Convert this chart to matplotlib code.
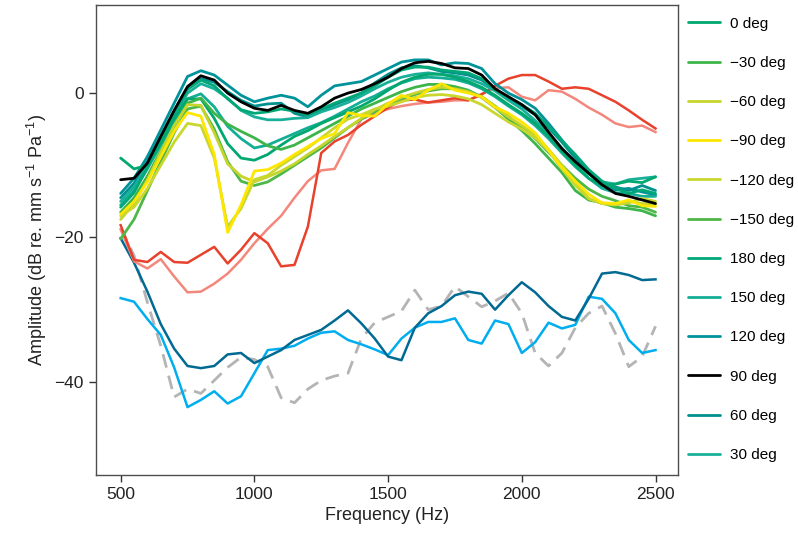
import matplotlib
matplotlib.use("Agg")
import matplotlib.pyplot as plt
import numpy as np

plt.rcParams['font.family'] = ['Liberation Sans', 'DejaVu Sans']
plt.rcParams['mathtext.fontset'] = 'custom'
plt.rcParams['mathtext.rm'] = 'Liberation Sans'
plt.rcParams['mathtext.it'] = 'Liberation Sans:italic'

# frequency grid (Hz)
freq = list(range(500, 2501, 50))

# angle responses (dB)
deg_0 = [-9.0, -10.5, -10.0, -7.0, -3.5, -0.8, -0.8, -3.5, -7.0, -9.0, -9.3, -8.5, -7.2, -6.0, -5.2, -4.2, -3.4,
         -2.6, -1.8, -0.8, 0.4, 1.5, 2.2, 2.6, 2.6, 2.2, 1.6, 0.8, -0.3, -1.6, -2.8, -4.2, -6.0, -8.0, -10.0,
         -11.8, -12.8, -12.6, -12.2, -12.4, -11.6]
deg_m30 = [-16.5, -14.5, -11.5, -8.0, -4.6, -1.4, -0.7, -2.8, -4.3, -5.3, -6.2, -7.3, -7.8, -7.2, -6.2, -5.2, -4.2,
           -3.2, -2.2, -1.4, -0.6, 0.2, 0.8, 1.2, 1.2, 0.9, 0.4, -0.6, -2.0, -3.6, -5.2, -7.0, -9.0, -11.0, -13.5,
           -14.8, -15.2, -15.8, -16.0, -16.3, -17.0]
deg_m60 = [-17.5, -15.3, -12.0, -8.2, -4.5, -1.6, -1.7, -5.5, -9.8, -11.5, -12.3, -11.6, -10.8, -9.8, -8.5, -7.3,
           -6.0, -4.8, -3.5, -2.3, -1.4, -0.6, 0.0, 0.5, 0.8, 0.6, 0.2, -0.6, -2.0, -3.3, -4.5, -5.8, -7.8, -10.0,
           -12.2, -14.6, -15.3, -15.4, -15.0, -15.3, -15.4]
deg_m90 = [-16.8, -15.0, -12.3, -8.8, -5.3, -2.7, -3.2, -8.5, -19.3, -15.5, -10.8, -10.6, -9.7, -8.5, -7.4, -6.3,
           -5.6, -2.7, -3.1, -3.2, -1.5, -0.3, -0.9, 0.4, 1.3, 0.4, 0.0, -0.5, -1.9, -2.8, -4.0, -5.5, -7.9, -10.3,
           -12.2, -14.0, -15.2, -15.3, -14.8, -15.6, -15.7]
deg_m120 = [-17.0, -15.8, -13.2, -10.0, -6.8, -4.2, -4.5, -9.0, -18.5, -16.0, -12.0, -11.4, -10.0, -8.8, -7.6,
            -6.2, -4.8, -3.6, -3.0, -2.2, -1.8, -1.2, -0.6, -0.3, -0.2, -0.4, -0.8, -1.6, -2.8, -4.0, -5.0, -6.2,
            -8.0, -10.5, -12.8, -14.6, -15.3, -15.5, -15.2, -14.6, -15.0]
deg_m150 = [-20.2, -17.5, -13.5, -9.5, -5.5, -2.2, -1.8, -5.0, -9.5, -12.2, -12.8, -12.3, -11.2, -10.0, -8.8,
            -7.6, -6.2, -4.8, -3.6, -2.6, -1.6, -0.8, -0.2, 0.3, 0.6, 0.6, 0.3, -0.5, -1.8, -3.2, -4.8, -6.3, -8.2,
            -10.0, -11.8, -13.3, -14.3, -14.9, -15.6, -15.8, -16.5]
deg_180 = [-15.8, -13.8, -10.3, -6.5, -2.8, 0.5, 1.8, 1.0, -0.8, -2.3, -2.8, -2.6, -2.2, -2.5, -3.0, -2.2, -1.4,
           -0.7, 0.0, 1.0, 2.2, 3.2, 3.6, 3.6, 3.2, 3.0, 2.8, 2.0, 0.5, -0.6, -1.6, -2.8, -4.6, -6.6, -8.5, -10.6,
           -12.2, -13.2, -13.9, -13.4, -13.9]
deg_150 = [-15.5, -13.5, -10.5, -7.2, -4.0, -0.8, -0.1, -1.9, -4.6, -6.3, -7.6, -7.2, -6.4, -5.6, -4.8, -4.1, -3.2,
           -2.2, -1.2, -0.4, 0.6, 1.4, 2.0, 2.2, 2.1, 1.9, 1.4, 0.6, -0.5, -1.8, -3.0, -4.5, -6.3, -8.3, -10.2,
           -11.8, -13.2, -13.8, -13.9, -14.3, -14.3]
deg_120 = [-13.9, -11.8, -8.8, -5.1, -1.4, 2.3, 3.1, 2.5, 1.1, -0.3, -1.2, -0.7, -0.3, -0.7, -1.9, -0.3, 1.0, 1.3,
           1.6, 2.5, 3.4, 4.3, 4.6, 4.6, 3.9, 4.2, 4.1, 3.4, 1.3, 0.0, -0.9, -2.1, -4.2, -6.5, -8.8, -11.1, -12.7,
           -13.4, -13.2, -13.7, -14.1]
deg_90 = [-12.0, -11.8, -9.7, -6.0, -2.4, 0.9, 2.4, 1.8, 0.0, -1.2, -2.1, -2.4, -1.7, -2.4, -2.8, -1.9, -0.7, 0.0,
          0.5, 1.3, 2.2, 3.4, 4.2, 4.4, 4.1, 3.5, 3.4, 2.5, 0.6, -0.5, -1.6, -3.0, -5.4, -7.7, -9.5, -11.1, -12.7,
          -13.9, -14.3, -14.8, -15.3]
deg_60 = [-14.5, -12.5, -9.5, -6.0, -2.5, 0.8, 2.0, 1.5, 0.2, -1.0, -1.8, -1.5, -1.4, -2.8, -3.3, -2.5, -1.6, -0.9,
          0.0, 1.4, 2.6, 3.5, 3.8, 3.5, 3.0, 2.8, 2.5, 1.8, 0.5, -0.8, -1.8, -3.0, -4.8, -6.8, -9.0, -11.0, -12.5,
          -13.0, -13.5, -12.8, -13.5]
deg_30 = [-15.0, -13.0, -10.0, -6.8, -3.3, 0.0, 1.3, 0.6, -0.7, -2.4, -3.3, -3.7, -3.7, -3.5, -3.4, -2.6, -2.0,
          -1.3, -0.4, 0.6, 1.5, 2.2, 2.6, 2.8, 2.6, 2.4, 2.0, 1.3, 0.3, -1.0, -2.2, -3.8, -5.6, -7.6, -9.6, -11.2,
          -12.3, -12.6, -12.0, -11.8, -11.6]

# unlabelled traces
red = [-18.3, -23.1, -23.4, -22.0, -23.4, -23.5, -22.4, -21.3, -23.6, -21.7, -19.4, -20.8, -24.0, -23.8, -18.5,
       -8.3, -6.7, -5.8, -4.4, -3.2, -2.0, -1.0, -0.9, -1.3, -1.0, -0.7, -1.0, -0.2, 1.0, 2.0, 2.5, 2.5, 1.6, 0.6,
       0.8, 0.6, -0.3, -1.2, -2.4, -3.7, -4.9]
salmon = [-18.9, -23.3, -24.3, -23.0, -25.4, -27.6, -27.5, -26.4, -25.0, -23.1, -20.8, -18.8, -17.0, -14.5, -12.2,
          -10.7, -10.5, -6.9, -3.6, -2.8, -2.2, -1.8, -1.5, -1.3, -1.2, -1.0, -1.0, -0.1, 0.7, 0.8, -0.5, -1.0, 0.4,
          0.2, -0.8, -2.0, -3.0, -4.2, -4.7, -4.5, -5.4]
dark_blue = [-20.1, -23.5, -27.5, -32.0, -35.4, -37.8, -38.1, -37.8, -36.2, -36.0, -37.4, -36.5, -35.6, -34.2,
             -33.5, -32.8, -31.5, -30.1, -31.9, -34.0, -36.5, -37.0, -32.5, -30.5, -29.5, -28.0, -27.5, -27.8,
             -30.0, -28.0, -26.2, -27.6, -29.5, -31.0, -31.5, -28.5, -25.0, -24.8, -25.2, -25.9, -25.8]
light_blue = [-28.4, -28.9, -31.3, -33.5, -38.0, -43.5, -42.5, -41.3, -43.0, -42.0, -38.8, -35.6, -35.4, -35.0,
              -34.0, -33.2, -33.0, -34.2, -34.8, -35.5, -36.3, -34.0, -32.5, -31.7, -31.7, -31.2, -34.2, -34.7,
              -31.5, -32.0, -36.0, -34.5, -31.8, -32.6, -32.1, -28.2, -28.5, -30.5, -34.2, -36.0, -35.6]
grey = [-18.7, -22.5, -29.0, -35.0, -42.1, -41.0, -41.6, -39.8, -38.0, -36.6, -36.9, -37.9, -42.2, -42.9, -41.0,
        -39.8, -39.2, -38.8, -34.0, -31.8, -31.0, -30.2, -27.3, -30.0, -29.5, -26.8, -28.2, -29.6, -28.8, -27.7,
        -30.5, -36.0, -37.8, -36.0, -32.5, -30.5, -29.5, -33.3, -37.9, -36.5, -32.3]

labels = ['0 deg', '\u221230 deg', '\u221260 deg', '\u221290 deg', '\u2212120 deg', '\u2212150 deg',
          '180 deg', '150 deg', '120 deg', '90 deg', '60 deg', '30 deg']
series = [deg_0, deg_m30, deg_m60, deg_m90, deg_m120, deg_m150, deg_180, deg_150, deg_120, deg_90, deg_60, deg_30]
colors = ['#00A870', '#3DB54A', '#C5D52B', '#FFE600', '#C9D72E', '#4DB848',
          '#00A878', '#14AE96', '#00939A', '#000000', '#00918F', '#19B09A']

fig, ax = plt.subplots(figsize=(7.98, 5.40), dpi=100)
fig.subplots_adjust(left=0.1197, right=0.8496, bottom=0.1204, top=0.9907)

ax.plot(freq, grey, color='#B4B4B4', lw=2.0, dashes=(5, 3))
ax.plot(freq, light_blue, color='#00AEEF', lw=1.8)
ax.plot(freq, dark_blue, color='#006A93', lw=1.8)
ax.plot(freq, salmon, color='#F4877C', lw=1.8)
ax.plot(freq, red, color='#E8412C', lw=1.8)

# draw order so black and yellow sit on top, as in the original
order = [8, 10, 11, 7, 6, 0, 1, 5, 2, 4, 3, 9]
lines = {}
for i in order:
    ln, = ax.plot(freq, series[i], color=colors[i], lw=2.0, solid_capstyle='round')
    lines[i] = ln
handles = [lines[i] for i in range(len(series))]

ax.legend(handles, labels, loc='upper left', bbox_to_anchor=(0.853, 0.983), bbox_transform=fig.transFigure,
          frameon=False, fontsize=11, handlelength=2.1, handletextpad=0.6, labelspacing=1.65, borderpad=0)

ax.set_xlim(406, 2584)
ax.set_ylim(-52.9, 12.2)
ax.set_xticks([500, 1000, 1500, 2000, 2500])
ax.set_yticks([0, -20, -40])
ax.tick_params(direction='out', length=5, width=1, colors='#333333', labelsize=12.5, labelcolor='#222222')
for s in ax.spines.values():
    s.set_color('#4D4D4D')
    s.set_linewidth(1.0)

ax.set_xlabel('Frequency (Hz)', fontsize=13, color='#222222')
ax.set_ylabel('Amplitude (dB re. mm s$^{-1}$ Pa$^{-1}$)', fontsize=13, color='#222222')

plt.savefig('out.png', dpi=100)
plt.close()
